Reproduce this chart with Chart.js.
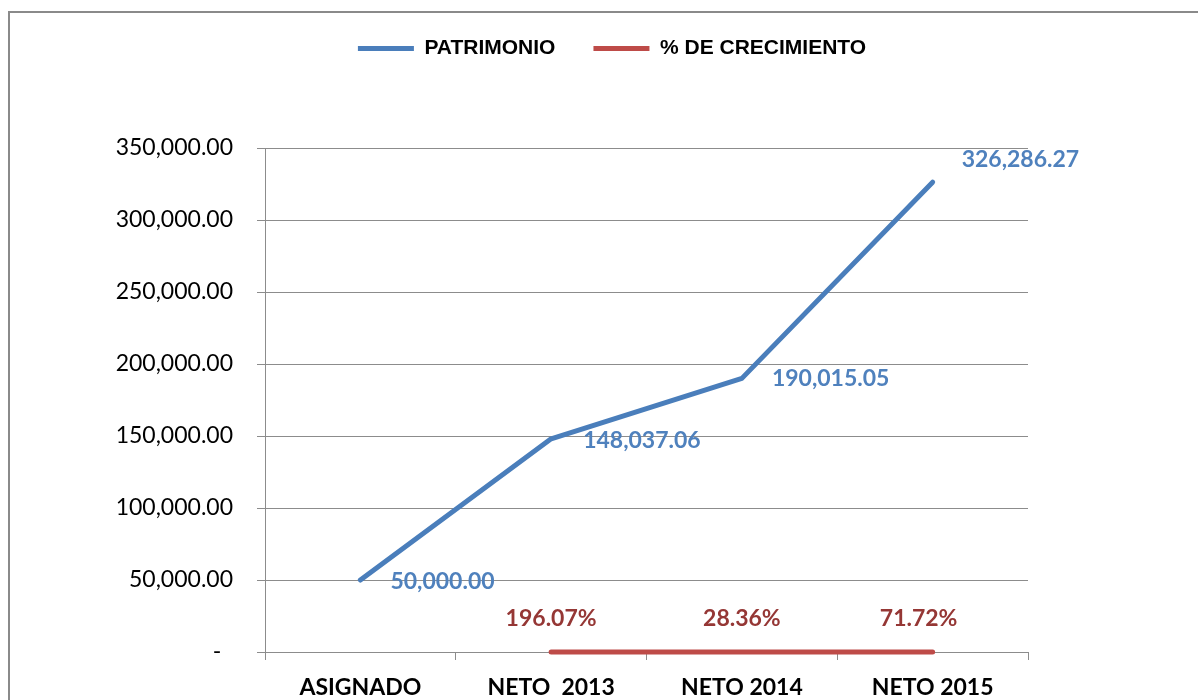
<!DOCTYPE html>
<html><head><meta charset="utf-8">
<script src="https://cdn.jsdelivr.net/npm/chart.js@4/dist/chart.umd.min.js"></script>
<style>
html,body{margin:0;padding:0;background:#fff;overflow:hidden}
#frame{position:absolute;left:8px;top:11px;width:1300px;height:800px;border:2px solid #8a8a8a;box-sizing:border-box}
#wrap{position:absolute;left:0;top:0;width:1198px;height:700px}
</style></head><body>
<div id="frame"></div>
<div id="wrap"><canvas id="c" width="1198" height="700"></canvas></div>
<script>
// ---- data ----
const categories = ['ASIGNADO', 'NETO  2013', 'NETO 2014', 'NETO 2015'];
const patrimonio = [50000.00, 148037.06, 190015.05, 326286.27];
const crecimiento = [null, 1.9607, 0.2836, 0.7172]; // growth as fraction (196.07% ...)
const yTickValues = [0, 50000, 100000, 150000, 200000, 250000, 300000, 350000];
const seriesNames = ['PATRIMONIO', '% DE CRECIMIENTO'];

// ---- style ----
const blueLine = '#4A7EBB', redLine = '#BE4B48';
const blueLabel = '#4F81BD', redLabel = '#953735';
const gridColor = '#8c8c8c';
const blueLabelOffsets = [[30, 2], [32, 2], [30, 0], [29, -23]];
const redLabelOffsets = [[0, -33], [0, -33], [0, -33], [-14, -33]];

const fmtNum = v => v.toLocaleString('en-US', {minimumFractionDigits: 2, maximumFractionDigits: 2});
const fmtPct = v => (v * 100).toFixed(2) + '%';

const pointLabels = {
  id: 'pointLabels',
  afterDatasetsDraw(chart) {
    const ctx = chart.ctx;
    chart.data.datasets.forEach((ds, i) => {
      const o = ds.pointLabel; if (!o) return;
      const meta = chart.getDatasetMeta(i);
      ctx.save();
      ctx.font = o.font; ctx.fillStyle = o.color; ctx.textAlign = o.align; ctx.textBaseline = 'middle';
      meta.data.forEach((el, j) => {
        const v = ds.data[j]; if (v == null) return;
        const off = o.offsets[j];
        ctx.fillText(o.format(v), el.x + off[0], el.y + off[1]);
      });
      ctx.restore();
    });
  }
};

const legendBand = {
  id: 'legendBand',
  beforeLayout(chart) {
    const lg = chart.legend;
    if (lg && !lg._bandWrapped) {
      const f = lg.fit;
      lg.fit = function () { f.call(this); this.height = 148; };
      lg._bandWrapped = true;
    }
  },
  afterLayout(chart) {
    const lg = chart.legend;
    if (lg) { lg.left = 196; lg.width = lg.right - lg.left; }
  }
};

new Chart(document.getElementById('c'), {
  type: 'line',
  data: {
    labels: categories,
    datasets: [
      {
        label: seriesNames[0], data: patrimonio,
        borderColor: blueLine, backgroundColor: blueLine, borderWidth: 5,
        pointRadius: 0, tension: 0, clip: false, borderCapStyle: 'round', borderJoinStyle: 'round',
        pointLabel: {font: 'bold 23px Lato', color: blueLabel, align: 'left', offsets: blueLabelOffsets, format: fmtNum}
      },
      {
        label: seriesNames[1], data: crecimiento,
        borderColor: redLine, backgroundColor: redLine, borderWidth: 5,
        pointRadius: 0, tension: 0, clip: false, borderCapStyle: 'round',
        pointLabel: {font: 'bold 23px Lato', color: redLabel, align: 'center', offsets: redLabelOffsets, format: fmtPct}
      }
    ]
  },
  options: {
    responsive: false, animation: false, devicePixelRatio: 1,
    layout: {padding: {left: 0, right: 170, top: 0, bottom: 0}},
    plugins: {
      tooltip: {enabled: false},
      legend: {
        position: 'top', align: 'center',
        labels: {
          usePointStyle: true, pointStyle: 'line', pointStyleWidth: 56,
          padding: 38, color: '#000',
          font: {family: 'Liberation Sans', weight: 'bold', size: 21}
        }
      }
    },
    scales: {
      x: {
        offset: true,
        grid: {offset: true, drawOnChartArea: false, drawTicks: true, tickLength: 8, color: gridColor},
        border: {color: gridColor},
        ticks: {color: '#000', padding: 14, maxRotation: 0, font: {family: 'Lato', weight: 'bold', size: 23}},
        afterFit(s) { s.height = 48; }
      },
      y: {
        min: 0, max: 350000,
        afterBuildTicks(s) { s.ticks = yTickValues.map(v => ({value: v})); },
        grid: {color: gridColor, tickLength: 8},
        border: {color: gridColor},
        ticks: {
          color: '#000', padding: 24, font: {family: 'Lato', size: 23},
          callback: v => v === 0 ? '-  ' : fmtNum(v)
        },
        afterFit(s) { s.width = 265; }
      }
    }
  },
  plugins: [pointLabels, legendBand]
});
</script>
</body></html>
